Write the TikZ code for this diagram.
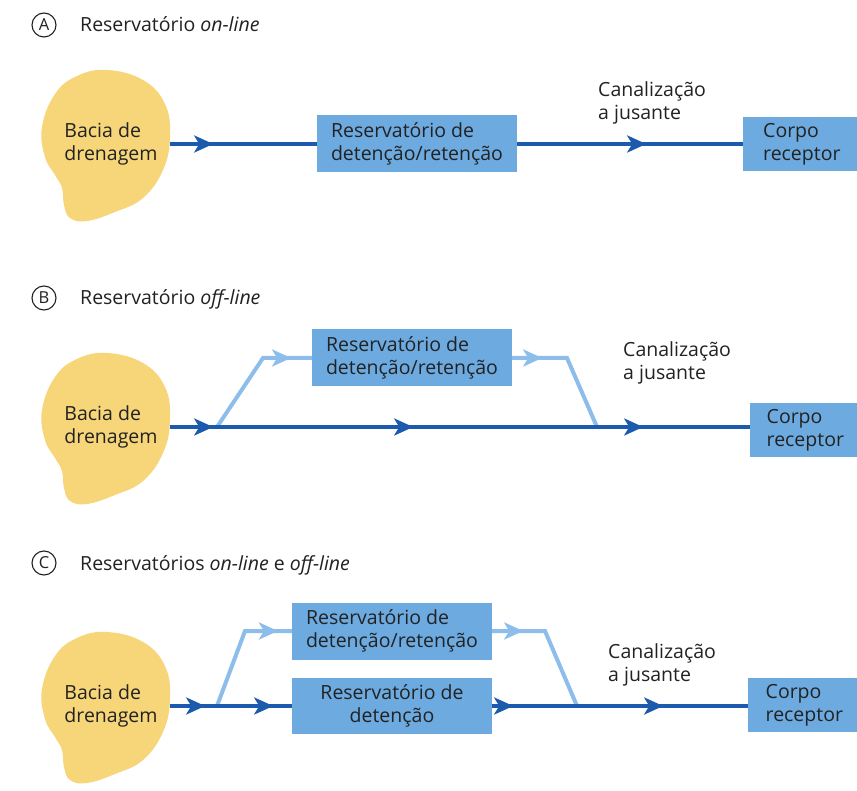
\documentclass[tikz,border=0pt]{standalone}
\usepackage{fontspec}
\setmainfont{Open Sans}
\usetikzlibrary{arrows.meta,decorations.markings}
\definecolor{blobY}{HTML}{F7D67A}
\definecolor{boxB}{HTML}{6CAAE0}
\definecolor{lineD}{HTML}{1C5AAD}
\definecolor{lineL}{HTML}{8DBEEB}
\definecolor{txt}{HTML}{222222}
\begin{document}
\begin{tikzpicture}[x=1pt,y=-1pt, font=\fontsize{19.5}{23}\selectfont, text=txt,
  rbox/.style={fill=boxB, inner sep=0pt, align=left, minimum height=57pt, minimum width=200pt},
  cbox/.style={fill=boxB, inner sep=0pt, align=left, text width=74pt, anchor=west, minimum height=54pt},
  blobtext/.style={align=left, minimum width=118pt, inner sep=0pt},
  lbl/.style={align=left, anchor=west, inner sep=0pt},
  flowD/.style={draw=lineD, line width=4pt},
  flowL/.style={draw=lineL, line width=4pt},
  marr/.style={postaction={decorate, decoration={markings, mark=at position #1 with {\arrow{Stealth[length=19pt,width=17pt,inset=5pt]}}}}},
  tag/.style={circle, draw=txt, line width=1.1pt, minimum size=24pt, inner sep=0pt, font=\fontsize{16.5}{16.5}\selectfont},
  title/.style={anchor=base west, inner sep=0pt},
  blobshape/.style={fill=blobY}
]
\fill[white] (0,0) rectangle (857,791);
\useasboundingbox (0,0) rectangle (857,791);

% ---------- Panel A ----------
\node[tag] (tA) at (44,25) {A};
\node[title] (ttA) at (80,32) {Reservatório \textit{on-line}};
\begin{scope}[shift={(105,144)}]
\fill[blobshape] plot[smooth cycle, tension=0.7] coordinates {(2,-74) (38,-64) (60,-40) (65,-7) (58,26) (38,54) (10,68) (-18,77) (-35,74) (-41,61) (-43,44) (-50,31) (-60,13) (-63,-17) (-50,-50) (-28,-68)};
\end{scope}
\node[blobtext] (bA) at (111,144) {Bacia de\\drenagem};
\node[rbox] (rA) at (417,144) {Reservatório de\\detenção/retenção};
\node[cbox, minimum width=114pt] (cA) at (743,144) {Corpo\\receptor};
\node[lbl] (jA) at (598,103) {Canalização\\a jusante};
\draw[flowD, marr=43pt] (bA.east) -- (rA.west);
\draw[flowD, marr=129pt] (rA.east) -- (cA.west);

% ---------- Panel B ----------
\node[tag] (tB) at (44,298) {B};
\node[title] (ttB) at (80,305) {Reservatório \textit{off-line}};
\begin{scope}[shift={(105,427)}]
\fill[blobshape] plot[smooth cycle, tension=0.7] coordinates {(2,-74) (38,-64) (60,-40) (65,-7) (58,26) (38,54) (10,68) (-18,77) (-35,74) (-41,61) (-43,44) (-50,31) (-60,13) (-63,-17) (-50,-50) (-28,-68)};
\end{scope}
\node[blobtext] (bB) at (111,427) {Bacia de\\drenagem};
\node[rbox] (rB) at (412,358) {Reservatório de\\detenção/retenção};
\node[cbox, minimum width=107pt] (cB) at (750,430) {Corpo\\receptor};
\node[lbl] (jB) at (623,363) {Canalização\\a jusante};
\coordinate (sB) at (217,427);
\coordinate (kB1) at (263,358);
\coordinate (kB2) at (567,358);
\coordinate (mB) at (597,427);
\draw[flowL, marr=111pt] (sB) -- (kB1) -- (rB.west);
\draw[flowL, marr=30pt] (rB.east) -- (kB2) -- (mB);
\draw[flowD, marr=43pt, marr=243pt, marr=473pt] (bB.east) -- (bB.east -| cB.west);

% ---------- Panel C ----------
\node[tag] (tC) at (44,563) {C};
\node[title] (ttC) at (80,570) {Reservatórios \textit{on-line} e \textit{off-line}};
\begin{scope}[shift={(105,706)}]
\fill[blobshape] plot[smooth cycle, tension=0.7] coordinates {(2,-74) (38,-64) (60,-40) (65,-7) (58,26) (38,54) (10,68) (-18,77) (-35,74) (-41,61) (-43,44) (-50,31) (-60,13) (-63,-17) (-50,-50) (-28,-68)};
\end{scope}
\node[blobtext] (bC) at (111,706) {Bacia de\\drenagem};
\node[rbox] (rC1) at (392,631) {Reservatório de\\detenção/retenção};
\node[rbox, minimum height=56pt, align=center] (rC2) at (392,706) {Reservatório de\\detenção};
\node[cbox, minimum width=109pt] (cC) at (748,705) {Corpo\\receptor};
\node[lbl] (jC) at (608,665) {Canalização\\a jusante};
\coordinate (sC) at (217,706);
\coordinate (kC1) at (245,631);
\coordinate (kC2) at (545,631);
\coordinate (mC) at (577,706);
\draw[flowL, marr=113pt] (sC) -- (kC1) -- (rC1.west);
\draw[flowL, marr=31pt] (rC1.east) -- (kC2) -- (mC);
\draw[flowD, marr=35pt, marr=103pt] (bC.east) -- (rC2.west);
\draw[flowD, marr=21pt, marr=171pt] (rC2.east) -- (rC2.east -| cC.west);
\end{tikzpicture}
\end{document}
